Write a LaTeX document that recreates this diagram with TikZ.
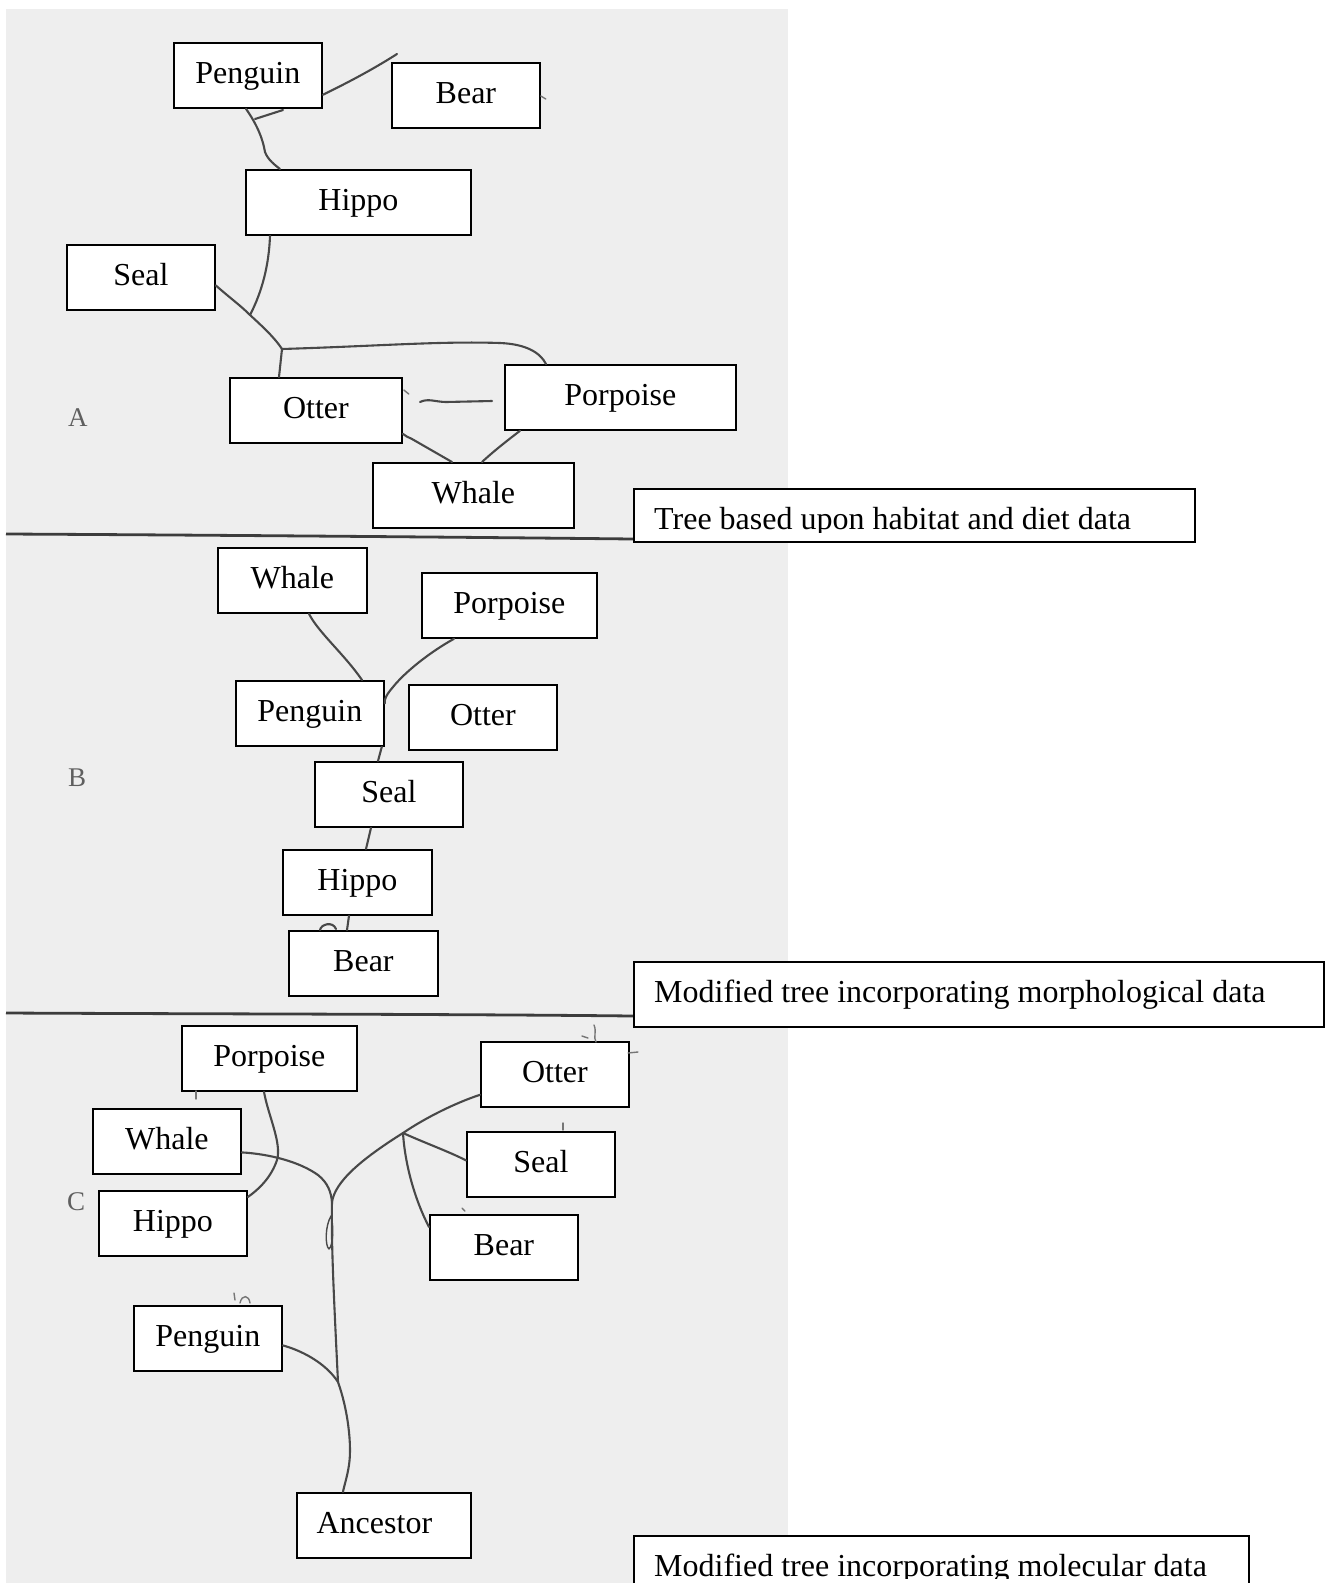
\documentclass[tikz,border=0pt]{standalone}
\usepackage{fontspec}
\setmainfont{Liberation Serif}
\usetikzlibrary{calc}
\definecolor{paper}{RGB}{238,238,238}
\definecolor{pencil}{RGB}{72,72,72}
\definecolor{rule}{RGB}{60,60,60}
\definecolor{letter}{RGB}{95,95,95}
\begin{document}
\begin{tikzpicture}[x=1pt,y=-1pt,
  box/.style={draw=black, line width=1.8pt, fill=white, inner xsep=0pt, inner ysep=0pt,
    text height=41pt, text depth=24pt, align=center, anchor=north west,
    font=\fontsize{32}{38}\selectfont},
  capbox/.style={draw=black, line width=1.8pt, fill=white, inner sep=0pt, anchor=north west},
  captext/.style={inner sep=0pt, anchor=base west, font=\fontsize{32}{38}\selectfont},
  twig/.style={draw=pencil, line width=2.1pt, line cap=round, line join=round},
  speck/.style={draw=pencil!75, line width=1.4pt, line cap=round},
  sep/.style={draw=rule, line width=2.8pt},
  panel/.style={text=letter, inner sep=0pt, anchor=base west, font=\fontsize{27}{30}\selectfont}
]
\useasboundingbox (0,0) rectangle (1331,1583);
\clip (0,0) rectangle (1331,1583);
\fill[white] (0,0) rectangle (1331,1583);
\fill[paper] (6,9) rectangle (788,1583);

% ---------------- separators ----------------
\coordinate (sepA0) at (6,534);
\coordinate (sepA1) at (633,539);
\coordinate (sepB0) at (6,1013);
\coordinate (sepB1) at (633,1016);
\draw[sep] (sepA0) .. controls (200,535) and (450,537) .. (sepA1);
\draw[sep] (sepB0) .. controls (200,1014) and (450,1014) .. (sepB1);

% ---------------- panel letters ----------------
\node[panel] (labA) at (68,426) {A};
\node[panel] (labB) at (68,786) {B};
\node[panel] (labC) at (67,1210) {C};

% ================= Tree A =================
\node[box, text width=148pt] (pA) at (173,42) {Penguin};
\node[box, text width=148pt] (bA) at (391,62) {Bear};
\node[box, text width=225pt] (hA) at (245,169) {Hippo};
\node[box, text width=148pt] (sA) at (66,244) {Seal};
\node[box, text width=172pt] (oA) at (229,377) {Otter};
\node[box, text width=231pt] (poA) at (504,364) {Porpoise};
\node[box, text width=201pt] (wA) at (372,462) {Whale};

\coordinate (fA) at (397,54);
\coordinate (stA1) at (255,119);
\coordinate (stA2) at (283,110);
\coordinate (jA0) at (250,315);
\coordinate (jA1) at (282,349);
\coordinate (hzA1) at (420,402);
\coordinate (hzA2) at (492,401);

\draw[twig] ([yshift=14pt]pA.south east) .. controls (345,84) and (372,70) .. (fA);
\draw[twig] (stA1) -- (stA2);
\draw[twig] ([xshift=73pt]pA.south west) .. controls (258,126) and (263,140) .. (265,152)
   .. controls (268,160) and (275,165) .. ([xshift=35pt]hA.north west);
\draw[twig] ([xshift=25pt]hA.south west) .. controls (269,265) and (262,292) .. (jA0);
\draw[twig] ([yshift=-8pt]sA.east) .. controls (230,298) and (240,305) .. (jA0)
   .. controls (262,326) and (275,338) .. (jA1);
\draw[twig] (jA1) -- ([xshift=50pt]oA.north west);
\draw[twig] (jA1) .. controls (380,346) and (440,341) .. (500,343)
   .. controls (525,344) and (540,352) .. ([xshift=42pt]poA.north west);
\draw[twig] (hzA1) .. controls (428,398) and (436,402) .. (446,402) -- (hzA2);
\draw[speck] ([xshift=1pt,yshift=-13pt]oA.north east) -- ++(5,4);
\draw[speck] ([yshift=-34pt]bA.north east) -- ++(5,3);
\draw[twig] ([yshift=10pt]oA.south east) .. controls (405,436) and (408,437) .. (412,439)
   -- ([xshift=80pt]wA.north west);
\draw[twig] ([xshift=16pt]poA.south west) .. controls (508,440) and (495,450) .. ([xshift=110pt]wA.north west);

\node[capbox, minimum width=561pt, minimum height=53pt] (capA) at (633,488) {};
\begin{scope}
  \clip (633,488) rectangle (1194,532);
  \node[captext] (capAt) at (654,529) {Tree based upon habitat and diet data};
\end{scope}

% ================= Tree B =================
\node[box, text width=149pt] (wB) at (217,547) {Whale};
\node[box, text width=175pt] (poB) at (421,572) {Porpoise};
\node[box, text width=148pt] (pB) at (235,680) {Penguin};
\node[box, text width=148pt] (oB) at (408,684) {Otter};
\node[box, text width=148pt] (sB) at (314,761) {Seal};
\node[box, text width=149pt] (hB) at (282,849) {Hippo};
\node[box, text width=149pt] (bB) at (288,930) {Bear};

\draw[twig] ([xshift=92pt]wB.south west) .. controls (318,632) and (345,655) .. ([xshift=127pt]pB.north west);
\draw[twig] ([xshift=33pt]poB.south west) .. controls (430,652) and (405,672) .. (393,687)
   .. controls (387,694) and (384,699) .. ([yshift=10pt]pB.east);
\draw[twig] ([xshift=-3pt]pB.south east) -- ([xshift=64pt]sB.north west);
\draw[twig] ([xshift=57pt]sB.south west) -- ([xshift=84pt]hB.north west);
\draw[twig] ([xshift=67pt]hB.south west) -- ([xshift=59pt]bB.north west);
\coordinate (hmB1) at (320,930);
\coordinate (hmB2) at (336,929);
\draw[twig] (hmB1) .. controls (321,924) and (333,921) .. (hmB2);

\node[capbox, minimum width=690pt, minimum height=65pt] (capB) at (633,961) {};
\node[captext] (capBt) at (654,1002) {Modified tree incorporating morphological data};

% ================= Tree C =================
\node[box, text width=175pt] (poC) at (181,1025) {Porpoise};
\node[box, text width=148pt] (oC) at (480,1041) {Otter};
\node[box, text width=148pt] (wC) at (92,1108) {Whale};
\node[box, text width=148pt] (sC) at (466,1131) {Seal};
\node[box, text width=148pt] (hC) at (98,1190) {Hippo};
\node[box, text width=148pt] (bC) at (429,1214) {Bear};
\node[box, text width=148pt] (pC) at (133,1305) {Penguin};
\node[box, text width=174pt] (aC) at (296,1492) {Ancestor\rule{19pt}{0pt}};

\coordinate (jC1) at (332,1202);
\coordinate (jC2) at (403,1133);
\coordinate (jC3) at (338,1382);

\draw[twig] ([xshift=83pt]poC.south west) .. controls (268,1115) and (282,1143) .. (277,1160)
   .. controls (271,1178) and (258,1190) .. ([yshift=-7pt]hC.north east);
\draw[twig] ([yshift=-11pt]wC.east) .. controls (270,1154) and (300,1162) .. (318,1175)
   .. controls (328,1183) and (331,1192) .. (jC1);
\draw[twig] (jC1) .. controls (335,1182) and (360,1160) .. (jC2)
   .. controls (425,1118) and (455,1103) .. ([yshift=13pt]oC.south west);
\draw[twig] (jC2) .. controls (425,1143) and (450,1152) .. ([yshift=4pt]sC.west);
\draw[twig] (jC2) .. controls (405,1165) and (415,1200) .. ([yshift=-13pt]bC.north west);
\draw[twig] (jC1) .. controls (331,1240) and (334,1300) .. (jC3);
\draw[twig, line width=1.4pt] (331,1216) .. controls (325,1226) and (325,1246) .. (329,1249)
   .. controls (333,1246) and (334,1226) .. (331,1216);
\draw[twig] ([yshift=-7pt]pC.east) .. controls (300,1350) and (325,1362) .. (jC3);
\draw[twig] (jC3) .. controls (348,1410) and (352,1445) .. (349,1465)
   .. controls (347,1478) and (344,1486) .. ([xshift=47pt]aC.north west);

% small pencil marks
\draw[speck] (594,1025) .. controls (597,1032) and (593,1037) .. (596,1042);
\draw[speck] (582,1036) -- (588,1038);
\draw[speck] (628,1053) -- (638,1052);
\draw[speck] (563,1123) -- (563,1130);
\draw[speck] (462,1208) -- (465,1211);
\draw[speck] (196,1091) -- (196,1099);
\draw[speck] (234,1293) -- (235,1300);
\draw[speck] (240,1303) .. controls (242,1294) and (249,1295) .. (250,1303);

\node[capbox, minimum width=615pt, minimum height=80pt] (capC) at (633,1535) {};
\begin{scope}
  \clip (633,1535) rectangle (1248,1578);
  \node[captext] (capCt) at (654,1576) {Modified tree incorporating molecular data};
\end{scope}
\end{tikzpicture}
\end{document}
